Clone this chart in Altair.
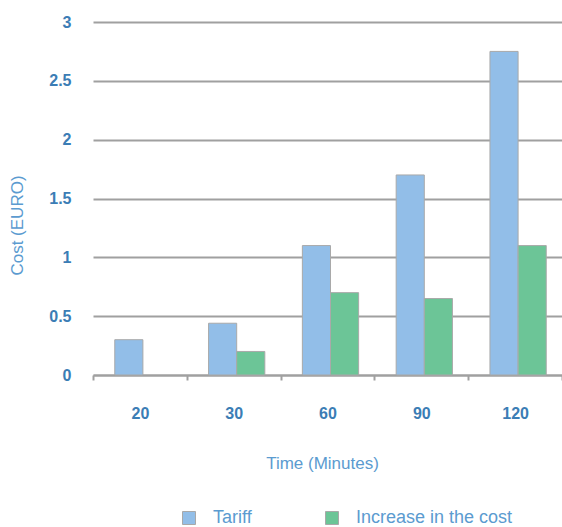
import altair as alt
import pandas as pd

# Parking cost by duration
times = ["20", "30", "60", "90", "120"]
tariff = [0.30, 0.44, 1.10, 1.70, 2.75]
increase = [None, 0.20, 0.70, 0.65, 1.10]
series = ["Tariff", "Increase in the cost"]
colors = ["#92bee8", "#6cc597"]
y_ticks = [0, 0.5, 1, 1.5, 2, 2.5, 3]

rows = []
for t, a, b in zip(times, tariff, increase):
    rows.append({"time": t, "series": series[0], "cost": a})
    if b is not None:
        rows.append({"time": t, "series": series[1], "cost": b})
df = pd.DataFrame(rows)

tick_blue = "#3b7db5"
title_blue = "#5b9bd0"
grid_gray = "#a0a0a0"

chart = alt.Chart(df).mark_bar(stroke="#a9a9a9", strokeWidth=1).encode(
    x=alt.X(
        "time:N",
        sort=times,
        title="Time (Minutes)",
        scale=alt.Scale(paddingInner=0, paddingOuter=0),
        axis=alt.Axis(
            tickBand="extent",
            labelAngle=0,
            labelFontWeight="bold",
            labelColor=tick_blue,
            labelFontSize=16,
            labelPadding=25,
            domainColor=grid_gray,
            domainWidth=2,
            tickColor=grid_gray,
            tickWidth=2,
            tickSize=5,
            grid=False,
            titleColor=title_blue,
            titleFontWeight="normal",
            titleFontSize=17,
            titleX=229,
            titleY=88,
            titleBaseline="middle",
        ),
    ),
    xOffset=alt.XOffset(
        "series:N",
        sort=series,
        scale=alt.Scale(paddingInner=0, paddingOuter=0.667, align=0.58),
    ),
    y=alt.Y(
        "cost:Q",
        title="Cost (EURO)",
        scale=alt.Scale(domain=[0, 3]),
        axis=alt.Axis(
            values=y_ticks,
            format=".1~f",
            domain=False,
            ticks=False,
            grid=True,
            gridColor=grid_gray,
            gridWidth=2,
            labelFontWeight="bold",
            labelColor=tick_blue,
            labelFontSize=16,
            labelPadding=22,
            titleColor=title_blue,
            titleFontWeight="normal",
            titleFontSize=17,
            titleX=-76,
            titleY=203,
            titleAlign="center",
            titleBaseline="middle",
        ),
    ),
    color=alt.Color(
        "series:N",
        sort=series,
        scale=alt.Scale(domain=series, range=colors),
        legend=alt.Legend(
            title=None,
            orient="none",
            direction="horizontal",
            legendX=87,
            legendY=487,
            padding=0,
            symbolType="square",
            symbolSize=169,
            symbolStrokeColor="#a9a9a9",
            symbolStrokeWidth=1,
            symbolOpacity=1,
            labelColor=title_blue,
            labelFontSize=18,
            labelOffset=15,
            columnPadding=71,
        ),
    ),
).properties(
    width=469,
    height=353,
    autosize=alt.AutoSizeParams(type="none"),
    padding={"left": 93, "top": 22, "right": 0, "bottom": 152},
).configure(
    font="Liberation Sans",
).configure_view(
    stroke=None,
)

chart.save("out.html", embed_options={"renderer": "svg", "actions": False})
